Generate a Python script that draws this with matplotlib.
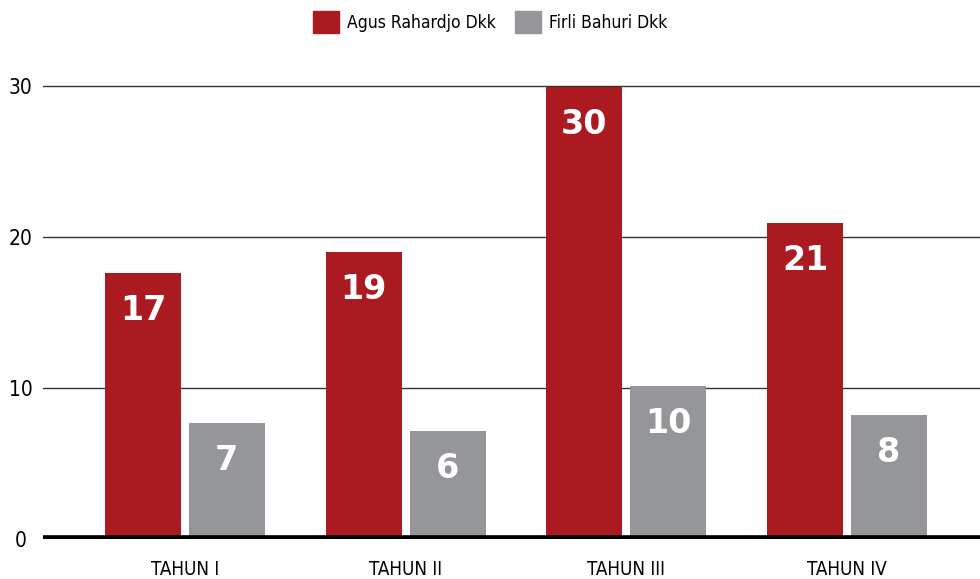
import matplotlib
matplotlib.use("Agg")
import matplotlib.pyplot as plt
import matplotlib.patches as mpatches
import numpy as np

# Data
categories = ["TAHUN I", "TAHUN II", "TAHUN III", "TAHUN IV"]
series_names = ["Agus Rahardjo Dkk", "Firli Bahuri Dkk"]
agus_values = [17.6, 19.0, 29.9, 20.9]
firli_values = [7.7, 7.15, 10.1, 8.2]
agus_labels = ["17", "19", "30", "21"]
firli_labels = ["7", "6", "10", "8"]
y_ticks = [0, 10, 20, 30]

RED = "#ab1a20"
GRAY = "#959699"
TEXT_FONT = ["DejaVu Sans"]

fig = plt.figure(figsize=(9.8, 5.79), dpi=100)
ax = fig.add_axes([43 / 980, 40 / 579, 1 - 43 / 980, 479 / 579])

x = np.arange(len(categories))
width = 0.344
offset = 0.19

bars_a = ax.bar(x - offset, agus_values, width, color=RED, zorder=3)
bars_f = ax.bar(x + offset, firli_values, width, color=GRAY, zorder=3)

# value labels inside bars
for bars, labels in [(bars_a, agus_labels), (bars_f, firli_labels)]:
    for b, lab in zip(bars, labels):
        ax.annotate(lab, (b.get_x() + b.get_width() / 2, b.get_height()),
                    xytext=(0, -27), textcoords="offset points",
                    ha="center", va="center", color="white",
                    fontsize=24, fontweight="heavy", family="DejaVu Sans", zorder=4)

ax.set_xlim(-0.643, 3.602)
ax.set_ylim(0, 31.72)

# grid lines and thick baseline
for t in y_ticks[1:]:
    ax.axhline(t, color="#333333", lw=1.0, zorder=1)
ax.axhline(0, color="black", lw=5.5, zorder=5)

for s in ax.spines.values():
    s.set_visible(False)

ax.set_yticks(y_ticks)
ax.set_yticklabels([str(t) for t in y_ticks], family=TEXT_FONT, fontsize=15,
                   fontstretch="condensed")
for lab in ax.get_yticklabels():
    lab.set_horizontalalignment("center")
ax.tick_params(axis="y", length=0, pad=16)

ax.set_xticks(x)
ax.set_xticklabels(categories, family=TEXT_FONT, fontsize=13.5,
                   fontstretch="condensed")
ax.tick_params(axis="x", length=0, pad=15)

handles = [mpatches.Patch(color=RED, label=series_names[0]),
           mpatches.Patch(color=GRAY, label=series_names[1])]
fig.legend(handles=handles, loc="center", bbox_to_anchor=(0.5, 1 - 22 / 579),
           ncol=2, frameon=False,
           prop={"family": TEXT_FONT, "size": 12.5, "stretch": "condensed"},
           handlelength=1.5, handleheight=1.5, handletextpad=0.45,
           columnspacing=1.1)

fig.savefig("out.png", dpi=100)
